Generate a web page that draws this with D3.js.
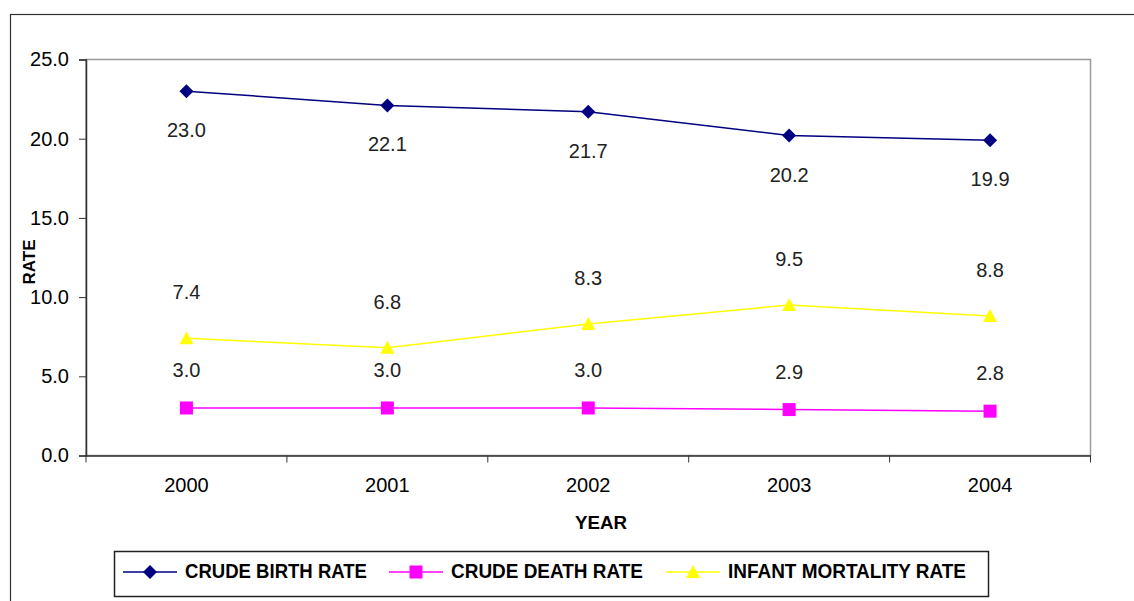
<!DOCTYPE html>
<html lang="en">
<head>
  <meta charset="UTF-8">
  <script src="https://d3js.org/d3.v7.min.js"></script>
  <title>Rates 2000-2004</title>
  <style>
    body { margin: 0; background: #fff; }
    svg text { font-family: "Liberation Sans", Arial, sans-serif; fill: #000; }
  </style>
</head>
<body>
  <svg width="1134" height="601"></svg>
  <script>
    const years = ['2000', '2001', '2002', '2003', '2004']
    const birthRate = [23.0, 22.1, 21.7, 20.2, 19.9]
    const deathRate = [3.0, 3.0, 3.0, 2.9, 2.8]
    const infantRate = [7.4, 6.8, 8.3, 9.5, 8.8]
    const yTicks = [0, 5, 10, 15, 20, 25]

    const series = [
      { name: 'CRUDE BIRTH RATE', values: birthRate, color: '#000080', marker: 'diamond', labelDy: 46 },
      { name: 'CRUDE DEATH RATE', values: deathRate, color: '#ff00ff', marker: 'square', labelDy: -31 },
      { name: 'INFANT MORTALITY RATE', values: infantRate, color: '#ffff00', marker: 'triangle', labelDy: -39 }
    ]

    const FONT = '"Liberation Sans", Arial, sans-serif'
    const svg = d3.select('svg')
    const plot = { left: 86, top: 59.5, right: 1090.5, bottom: 455.5 }

    // outer frame
    svg.append('rect')
      .attr('x', 10.5).attr('y', 14.5)
      .attr('width', 1140).attr('height', 600)
      .attr('fill', 'none').attr('stroke', '#333').attr('stroke-width', 1.2)

    const x = d3.scaleBand().domain(years).range([plot.left, plot.right])
    const y = d3.scaleLinear().domain([0, 25]).range([plot.bottom, plot.top])

    // plot area border (grey top/right)
    svg.append('rect')
      .attr('x', plot.left).attr('y', plot.top)
      .attr('width', plot.right - plot.left).attr('height', plot.bottom - plot.top)
      .attr('fill', 'none').attr('stroke', '#999').attr('stroke-width', 1.5)

    const yAxis = svg.append('g')
      .attr('transform', `translate(${plot.left},0)`)
      .call(d3.axisLeft(y).tickValues(yTicks).tickFormat(d3.format('.1f')).tickSize(7).tickPadding(10))
    yAxis.select('.domain').attr('stroke', '#333').attr('stroke-width', 1.5)
    yAxis.selectAll('.tick line').attr('stroke', '#333')
    yAxis.selectAll('text').attr('font-size', 20).attr('font-family', FONT)

    const xAxis = svg.append('g')
      .attr('transform', `translate(0,${plot.bottom})`)
      .call(d3.axisBottom(x).tickSize(0).tickPadding(22))
    xAxis.select('.domain').attr('stroke', '#333').attr('stroke-width', 1.5)
    xAxis.selectAll('text').attr('font-size', 20).attr('font-family', FONT)

    // x ticks at category boundaries
    const bounds = years.map(d => x(d)).concat([x(years[years.length - 1]) + x.bandwidth()])
    svg.append('g').selectAll('line').data(bounds).join('line')
      .attr('x1', d => d).attr('x2', d => d)
      .attr('y1', plot.bottom).attr('y2', plot.bottom + 7)
      .attr('stroke', '#333')

    const cx = d => x(d) + x.bandwidth() / 2

    const line = d3.line()
      .x((v, i) => cx(years[i]))
      .y(v => y(v))

    function drawMarker(g, type, color) {
      if (type === 'diamond') {
        g.append('path').attr('d', 'M0,-7L7,0L0,7L-7,0Z').attr('fill', color)
      } else if (type === 'square') {
        g.append('rect').attr('x', -6.5).attr('y', -6.5).attr('width', 13).attr('height', 13).attr('fill', color)
      } else {
        g.append('path').attr('d', 'M0,-7L7,6L-7,6Z').attr('fill', color)
      }
    }

    series.forEach(s => {
      svg.append('path')
        .datum(s.values)
        .attr('d', line)
        .attr('fill', 'none')
        .attr('stroke', s.color)
        .attr('stroke-width', 1.5)

      s.values.forEach((v, i) => {
        const g = svg.append('g').attr('transform', `translate(${cx(years[i])},${y(v)})`)
        drawMarker(g, s.marker, s.color)
        svg.append('text')
          .attr('x', cx(years[i]))
          .attr('y', y(v) + s.labelDy)
          .attr('text-anchor', 'middle')
          .attr('font-size', 20)
          .style('fill', '#222')
          .text(d3.format('.1f')(v))
      })
    })

    // axis titles
    svg.append('text')
      .attr('transform', 'translate(35,262) rotate(-90)')
      .attr('text-anchor', 'middle')
      .attr('font-size', 17).attr('font-weight', 'bold')
      .text('RATE')
    svg.append('text')
      .attr('x', 601).attr('y', 529)
      .attr('text-anchor', 'middle')
      .attr('font-size', 19).attr('font-weight', 'bold')
      .attr('font-family', '"DejaVu Sans", sans-serif')
      .attr('textLength', 52).attr('lengthAdjust', 'spacingAndGlyphs')
      .text('YEAR')

    // legend
    const legend = svg.append('g')
    legend.append('rect')
      .attr('x', 114.5).attr('y', 551.5).attr('width', 874).attr('height', 45)
      .attr('fill', 'none').attr('stroke', '#222').attr('stroke-width', 1.5)
    const legendX = [123, 389, 666]
    const legendW = [182, 192, 238]
    series.forEach((s, i) => {
      const lx = legendX[i], ly = 572
      legend.append('line')
        .attr('x1', lx).attr('x2', lx + 54).attr('y1', ly).attr('y2', ly)
        .attr('stroke', s.color).attr('stroke-width', 1.5)
      const g = legend.append('g').attr('transform', `translate(${lx + 27},${ly})`)
      drawMarker(g, s.marker, s.color)
      legend.append('text')
        .attr('x', lx + 62).attr('y', 578)
        .attr('font-size', 20)
        .attr('font-family', '"DejaVu Sans", sans-serif')
        .attr('font-weight', 'bold')
        .attr('textLength', legendW[i]).attr('lengthAdjust', 'spacingAndGlyphs')
        .text(s.name)
    })
  </script>
</body>
</html>
